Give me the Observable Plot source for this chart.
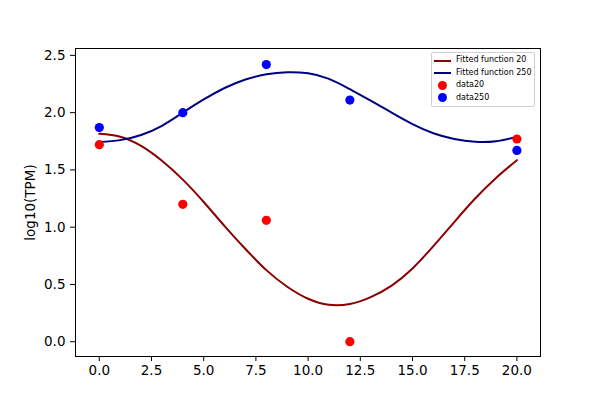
<!DOCTYPE html>
<html>
<head>
<meta charset="utf-8">
<script src="https://cdn.jsdelivr.net/npm/d3@7"></script>
<script src="https://cdn.jsdelivr.net/npm/@observablehq/plot@0.6"></script>
<style>
  html, body { margin: 0; padding: 0; background: white; }
  #wrap { position: relative; width: 600px; height: 400px; }
  #legend {
    position: absolute; left: 431px; top: 52px; width: 104px; height: 55px;
    border: 1px solid #d0d0d0; border-radius: 2px; background: rgba(255,255,255,0.8);
    font-family: "DejaVu Sans", sans-serif; font-size: 8px; color: #000;
    box-sizing: border-box; padding-top: 1px;
  }
  .row { position: relative; height: 12.6px; line-height: 12.6px; }
  .row .sym { position: absolute; left: 2px; top: 0; width: 17px; height: 12.6px; }
  .row .lbl { position: absolute; left: 24px; top: 0; white-space: nowrap; }
  .ln { position: absolute; left: 0; top: 5.5px; width: 17px; height: 2px; }
  .dt { position: absolute; left: 4px; top: 1.5px; width: 9px; height: 9px; border-radius: 50%; }
</style>
</head>
<body>
<div id="wrap"></div>
<script>
// Observation times
const times = [0, 4, 8, 12, 20];
// Measured values
const data20Values = [1.72, 1.20, 1.06, 0.0, 1.77];
const data250Values = [1.87, 2.00, 2.42, 2.11, 1.67];

// Fitted curves
const fitX = [0, 1, 2, 3, 4, 5, 6, 7, 8, 9, 10, 11, 12, 13, 14, 15, 16, 17, 18, 19, 20];
const fit20Values = [1.815, 1.79, 1.71, 1.58, 1.415, 1.22, 1.01, 0.81, 0.625, 0.48, 0.375, 0.322, 0.33, 0.39, 0.49, 0.64, 0.835, 1.045, 1.25, 1.43, 1.585];
const fit250Values = [1.743, 1.76, 1.805, 1.885, 2.00, 2.115, 2.215, 2.29, 2.335, 2.353, 2.343, 2.295, 2.205, 2.105, 2.00, 1.90, 1.82, 1.77, 1.745, 1.75, 1.79];

const xTicks = [0, 2.5, 5, 7.5, 10, 12.5, 15, 17.5, 20];
const yTicks = [0, 0.5, 1.0, 1.5, 2.0, 2.5];

const data20 = times.map((t, i) => ({x: t, y: data20Values[i]}));
const data250 = times.map((t, i) => ({x: t, y: data250Values[i]}));
const fit20 = fitX.map((t, i) => ({x: t, y: fit20Values[i]}));
const fit250 = fitX.map((t, i) => ({x: t, y: fit250Values[i]}));

const chart = Plot.plot({
  width: 600,
  height: 400,
  marginLeft: 75,
  marginRight: 60,
  marginTop: 48,
  marginBottom: 44,
  style: {fontFamily: "DejaVu Sans, sans-serif", fontSize: "13.5px", background: "white", color: "black", overflow: "visible"},
  x: {domain: [-1.14, 21.13]},
  y: {domain: [-0.129, 2.56]},
  marks: [
    Plot.axisX({ticks: xTicks, tickFormat: d3.format(".1f"), tickSize: 5, tickPadding: 4, label: null}),
    Plot.axisY({ticks: yTicks, tickFormat: d3.format(".1f"), tickSize: 5, tickPadding: 5, label: "log10(TPM)", labelAnchor: "center", labelOffset: 50, labelArrow: "none"}),
    Plot.line(fit20, {x: "x", y: "y", stroke: "#8B0000", strokeWidth: 2, curve: "natural"}),
    Plot.line(fit250, {x: "x", y: "y", stroke: "#000080", strokeWidth: 2, curve: "natural"}),
    Plot.dot(data20, {x: "x", y: "y", fill: "red", r: 4.6}),
    Plot.dot(data250, {x: "x", y: "y", fill: "blue", r: 4.6}),
    Plot.frame({stroke: "black", strokeWidth: 1})
  ]
});

const wrap = document.getElementById("wrap");
wrap.appendChild(chart);

const legendItems = [
  {label: "Fitted function 20", type: "line", color: "#8B0000"},
  {label: "Fitted function 250", type: "line", color: "#000080"},
  {label: "data20", type: "dot", color: "red"},
  {label: "data250", type: "dot", color: "blue"}
];
const legend = document.createElement("div");
legend.id = "legend";
for (const it of legendItems) {
  const row = document.createElement("div");
  row.className = "row";
  const sym = document.createElement("div");
  sym.className = "sym";
  const s = document.createElement("div");
  s.className = it.type === "line" ? "ln" : "dt";
  s.style.background = it.color;
  sym.appendChild(s);
  const lbl = document.createElement("div");
  lbl.className = "lbl";
  lbl.textContent = it.label;
  row.appendChild(sym);
  row.appendChild(lbl);
  legend.appendChild(row);
}
wrap.appendChild(legend);
</script>
</body>
</html>
